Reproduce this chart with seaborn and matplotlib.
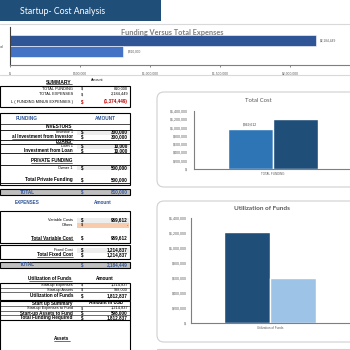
import numpy as np
import pandas as pd
import matplotlib
matplotlib.use("Agg")
import matplotlib.pyplot as plt
import seaborn as sns
from matplotlib.patches import Rectangle, FancyBboxPatch
from matplotlib.lines import Line2D
from matplotlib.ticker import FuncFormatter

# ---------------- data ----------------
investor_names = ["Investor 1"]
investor_amounts = [300000]
loan_names = ["Loan 1"]
loan_amounts = [10000]
owner_names = ["Owner 1"]
owner_amounts = [500000]
variable_labels = ["Variable Costs", "Others"]
variable_values = [969612, 0]
fixed_labels = ["Fixed Cost"]
fixed_values = [1214837]
util_labels = ["Start-up Expenses", "Start-up Assets"]
util_values = [1214837, 598000]

top_category = ["Total"]
top_series = ["Total Expenses", "Total Funding"]
top_values = [2184449, 810000]
top_ticks = [0, 500000, 1000000, 1500000, 2000000, 2500000]

cost_category = ["TOTAL FUNDING"]
cost_series = ["Variable Cost", "Fixed Cost"]
cost_values = [969612, 1214837]

util_category = ["Utilization of Funds"]
util_series = ["Start-up Expenses", "Start-up Assets"]
util_chart_values = [1214837, 598000]
y_ticks = [0, 200000, 400000, 600000, 800000, 1000000, 1200000, 1400000]

# ---------------- setup ----------------
sns.set_theme(style="white")
plt.rcParams['font.family'] = ['Liberation Sans', 'DejaVu Sans']
W = H = 350
fig = plt.figure(figsize=(3.5, 3.5), dpi=100)
fig.patch.set_facecolor("white")

def R(l, t, r, b):
    return [l / W, 1 - b / H, (r - l) / W, (b - t) / H]

def rect(l, t, r, b, fc="none", ec="none", lw=0.0, z=1):
    fig.add_artist(Rectangle((l / W, 1 - b / H), (r - l) / W, (b - t) / H,
                             transform=fig.transFigure, fc=fc, ec=ec, lw=lw, zorder=z))

def hline(x0, x1, y, c="black", lw=0.7, z=3):
    fig.add_artist(Line2D([x0 / W, x1 / W], [1 - y / H, 1 - y / H],
                          transform=fig.transFigure, color=c, lw=lw, zorder=z))

def vline(x, y0, y1, c="black", lw=0.7, z=3):
    fig.add_artist(Line2D([x / W, x / W], [1 - y0 / H, 1 - y1 / H],
                          transform=fig.transFigure, color=c, lw=lw, zorder=z))

underlined = []
def T(x, y, s, ha="left", size=2.9, weight="normal", color="black", family=None, ul=False):
    kw = {}
    if family:
        kw["family"] = family
    t = fig.text(x / W, 1 - y / H, s, ha=ha, va="center", fontsize=size,
                 fontweight=weight, color=color, zorder=5, **kw)
    if ul:
        underlined.append((t, y))
    return t

def money(v):
    return "-" if v == 0 else f"{v:,.0f}"

def dollar_fmt(v, pos=None):
    return "$-" if v == 0 else f"${v:,.0f}"

navy = "#1F4E79"
blue_txt = "#2F5597"
gray_txt = "#595959"

# ---------------- banner ----------------
rect(0, 0, 161, 21, fc=navy)
T(20, 11, "Startup- Cost Analysis", size=6.3, color="white", family=["Lato", "DejaVu Sans"])

# ---------------- top chart ----------------
hline(0, 350, 24, c="#D9D9D9", lw=0.8)
hline(0, 350, 75, c="#D9D9D9", lw=0.8)
ax1 = fig.add_axes(R(10, 27, 360, 65))
ax1.set_facecolor("none")
df_top = pd.DataFrame({"cat": top_category * 2, "series": top_series, "value": top_values})
sns.barplot(data=df_top, x="value", y="cat", hue="series", orient="h",
            palette=["#2F5597", "#4472C4"], saturation=1, width=0.56,
            ax=ax1, legend=False, edgecolor="white", linewidth=0.4)
ax1.set_xlim(0, 2500000)
ax1.set_ylim(0.5, -0.5)
ax1.set_xticks(top_ticks)
ax1.xaxis.set_major_formatter(FuncFormatter(dollar_fmt))
ax1.tick_params(axis="x", labelsize=2.4, colors=gray_txt, length=1.5, width=0.5, pad=3, bottom=True)
ax1.tick_params(axis="y", labelsize=2.8, colors=gray_txt, length=0, pad=4.5)
ax1.set_xlabel("")
ax1.set_ylabel("")
for s in ["top", "right"]:
    ax1.spines[s].set_visible(False)
ax1.spines["left"].set_color("#404040")
ax1.spines["left"].set_linewidth(0.8)
ax1.spines["bottom"].set_color("#7F7F7F")
ax1.spines["bottom"].set_linewidth(0.8)
for cont, v in zip(ax1.containers, top_values):
    ax1.bar_label(cont, labels=[f"${v:,.0f}"], fontsize=2.3, color=gray_txt, padding=3)
T(172, 32, "Funding Versus Total Expenses", ha="center", size=5.3, weight="bold",
  color="#7F7F7F", family=["Lato", "DejaVu Sans"])

# ---------------- chart boxes ----------------
for (l, t, r, b) in [(157, 92, 362, 187), (157, 201, 362, 342)]:
    fig.add_artist(FancyBboxPatch((l / W, 1 - b / H), (r - l) / W, (b - t) / H,
                                  boxstyle="round,pad=0,rounding_size=0.02",
                                  transform=fig.transFigure, fc="white", ec="#D0D0D0",
                                  lw=0.8, zorder=-1))
hline(157, 350, 349, c="#D0D0D0", lw=0.8)

# ---------------- total cost chart ----------------
ax2 = fig.add_axes(R(194, 111, 352, 169))
ax2.set_facecolor("none")
df_cost = pd.DataFrame({"cat": cost_category * 2, "series": cost_series, "value": cost_values})
sns.barplot(data=df_cost, x="cat", y="value", hue="series", palette=["#2E75B6", navy],
            saturation=1, width=0.57, ax=ax2, legend=False)
ax2.set_ylim(0, 1400000)
ax2.set_xlim(-0.5, 0.5)
ax2.set_yticks(y_ticks)
ax2.yaxis.set_major_formatter(FuncFormatter(dollar_fmt))
ax2.tick_params(axis="y", labelsize=2.6, colors=gray_txt, length=0, pad=4)
ax2.tick_params(axis="x", labelsize=2.2, colors=gray_txt, length=0, pad=2.5)
ax2.set_xlabel("")
ax2.set_ylabel("")
for s in ["top", "right"]:
    ax2.spines[s].set_visible(False)
for s in ["left", "bottom"]:
    ax2.spines[s].set_color("#7F7F7F")
    ax2.spines[s].set_linewidth(0.8)
ax2.bar_label(ax2.containers[0], labels=[f"${cost_values[0]:,.0f}"], fontsize=2.4,
              color="#404040", padding=2)
T(258, 101, "Total Cost", ha="center", size=4.2, color=gray_txt, family=["Lato", "DejaVu Sans"])

# ---------------- utilization chart ----------------
ax3 = fig.add_axes(R(191, 218, 349, 323))
ax3.set_facecolor("none")
df_util = pd.DataFrame({"cat": util_category * 2, "series": util_series, "value": util_chart_values})
sns.barplot(data=df_util, x="cat", y="value", hue="series", palette=[navy, "#9DC3E6"],
            saturation=1, width=0.58, ax=ax3, legend=False)
ax3.set_ylim(0, 1400000)
ax3.set_xlim(-0.5, 0.5)
ax3.set_yticks(y_ticks)
ax3.yaxis.set_major_formatter(FuncFormatter(dollar_fmt))
ax3.tick_params(axis="y", labelsize=2.6, colors=gray_txt, length=0, pad=3)
ax3.tick_params(axis="x", labelsize=2.2, colors=gray_txt, length=0, pad=2.5)
ax3.set_xlabel("")
ax3.set_ylabel("")
for s in ["top", "right"]:
    ax3.spines[s].set_visible(False)
for s in ["left", "bottom"]:
    ax3.spines[s].set_color("#7F7F7F")
    ax3.spines[s].set_linewidth(0.8)
T(262, 208, "Utilization of Funds", ha="center", size=4.6, weight="bold", color=gray_txt,
  family=["Lato", "DejaVu Sans"])

# ---------------- left table ----------------
LX, DX, VX = 73, 81, 128
REG, BLD = 2.8, 3.3

def row(y, label, val, lw="normal", vw="normal", lsize=None, vsize=None, bg=None,
        color="black", lx=LX, ul=False):
    if bg:
        rect(77, y - 2.5, 129, y + 2.5, fc=bg, z=2)
    T(lx, y, label, ha="right", size=lsize or (BLD if lw == "bold" else REG), weight=lw,
      color=color, ul=ul)
    T(DX, y, "$", ha="left", size=vsize or (BLD if vw == "bold" else REG), weight=vw, color=color)
    T(VX, y, val, ha="right", size=vsize or (BLD if vw == "bold" else REG), weight=vw, color=color)

total_funding = sum(investor_amounts) + sum(loan_amounts) + sum(owner_amounts)
total_variable = sum(variable_values)
total_fixed = sum(fixed_values)
total_expenses = total_variable + total_fixed
net = total_funding - total_expenses

# summary
T(72, 82, "SUMMARY", ha="right", size=3.6, weight="bold", ul=True)
T(97, 80, "Amount", ha="center", size=2.6)
rect(0, 86, 130, 107, ec="black", lw=0.8, z=3)
row(89, "TOTAL FUNDING", money(total_funding))
row(94, "TOTAL EXPENSES", money(total_expenses))
T(LX, 102, "L ( FUNDING MINUS EXPENSES )", ha="right", size=REG)
T(DX, 102, "$", size=BLD, weight="bold", color="#C00000")
T(VX, 102, f"({abs(net):,.0f})", ha="right", size=BLD, weight="bold", color="#C00000")

# funding
rect(0, 113, 130, 185, ec="black", lw=0.8, z=3)
hline(0, 130, 124, lw=0.5)
T(27, 118, "FUNDING", ha="center", size=3.4, weight="bold", color=blue_txt)
T(105, 118, "AMOUNT", ha="center", size=3.4, weight="bold", color=blue_txt)
T(72, 127, "INVESTORS", ha="right", size=BLD, weight="bold", ul=True)
rect(0, 129.5, 130, 139.5, ec="black", lw=0.6, z=3)
row(132, investor_names[0], money(investor_amounts[0]), vw="bold", bg="#EDEDED")
row(137, "al Investment from Investor", money(sum(investor_amounts)), lw="bold", vw="bold", ul=True)
T(72, 141.5, "LOANS", ha="right", size=BLD, weight="bold", ul=True)
rect(0, 143.5, 130, 153, ec="black", lw=0.6, z=3)
row(146, loan_names[0], money(loan_amounts[0]), vw="bold", bg="#EDEDED")
row(150.5, "Investment from Loan", money(sum(loan_amounts)), lw="bold", vw="bold", ul=True)
T(72, 161, "PRIVATE FUNDING", ha="right", size=BLD, weight="bold", ul=True)
rect(0, 165, 130, 183, ec="black", lw=0.6, z=3)
row(168, owner_names[0], money(owner_amounts[0]), vw="bold", bg="#EDEDED")
row(180, "Total Private Funding", money(sum(owner_amounts)), lw="bold", vw="bold")

# total band
rect(0, 189, 130, 195, fc="#BFBFBF", ec="black", lw=0.8, z=2)
T(27, 192, "TOTAL", ha="center", size=BLD, weight="bold", color=blue_txt)
T(DX, 192, "$", size=BLD, weight="bold", color=blue_txt)
T(VX, 192, money(total_funding), ha="right", size=BLD, weight="bold", color=blue_txt)

# expenses
T(27, 203, "EXPENSES", ha="center", size=3.3, weight="bold", color=blue_txt)
T(103, 203, "Amount", ha="center", size=3.3, weight="bold", color=blue_txt)
rect(0, 211, 130, 243, ec="black", lw=0.8, z=3)
row(220, variable_labels[0], money(variable_values[0]), vw="bold", bg="#EDEDED")
row(225, variable_labels[1], money(variable_values[1]), bg="#F8CBAD")
row(238, "Total Variable Cost", money(total_variable), lw="bold", vw="bold", ul=True)

rect(0, 245, 130, 258.5, ec="black", lw=0.8, z=3)
row(250, fixed_labels[0], money(fixed_values[0]), vw="bold", bg="#EDEDED")
row(255, "Total Fixed Cost", money(total_fixed), lw="bold", vw="bold", ul=True)

rect(0, 262, 130, 268, fc="#BFBFBF", ec="black", lw=0.8, z=2)
T(27, 265, "TOTAL", ha="center", size=BLD, weight="bold", color=blue_txt)
T(DX, 265, "$", size=BLD, weight="bold", color=blue_txt)
T(VX, 265, money(total_expenses), ha="right", size=BLD, weight="bold", color=blue_txt)

# utilization
util_total = sum(util_values)
T(72, 279, "Utilization of Funds", ha="right", size=BLD, weight="bold", ul=True)
T(105, 279, "Amount", ha="center", size=BLD, weight="bold")
rect(0, 283, 130, 299.5, ec="black", lw=0.8, z=3)
for yy in [287.5, 292]:
    hline(0, 130, yy, lw=0.4)
row(285, util_labels[0], money(util_values[0]))
row(289.5, util_labels[1], money(util_values[1]))
row(295.5, "Utilization of Funds", money(util_total), lw="bold", vw="bold")

rect(0, 300.5, 130, 320, ec="black", lw=0.8, z=3)
for yy in [305.5, 310.5, 315]:
    hline(0, 130, yy, lw=0.4)
T(72, 303, "Start up Summary", ha="right", size=BLD, weight="bold")
T(106, 303, "Amount in USD", ha="center", size=BLD, weight="bold")
row(308, "Start-up Expenses to Fund", money(util_values[0]))
row(313, "Start-up Assets to Fund", money(util_values[1]), lw="bold", vw="bold")
row(317.5, "Total Funding Required", money(util_total), lw="bold", vw="bold")
vline(130, 320, 350, lw=0.8)
vline(0.3, 320, 350, lw=0.8)
T(62, 339, "Assets", ha="center", size=BLD, weight="bold", ul=True)

# underlines
fig.canvas.draw()
rend = fig.canvas.get_renderer()
for t, y in underlined:
    bb = t.get_window_extent(rend)
    x0 = max(bb.x0, 0)
    hline(x0, bb.x1, y + 2.0, lw=0.4, z=5)

fig.savefig("out.png", dpi=100, facecolor="white")
